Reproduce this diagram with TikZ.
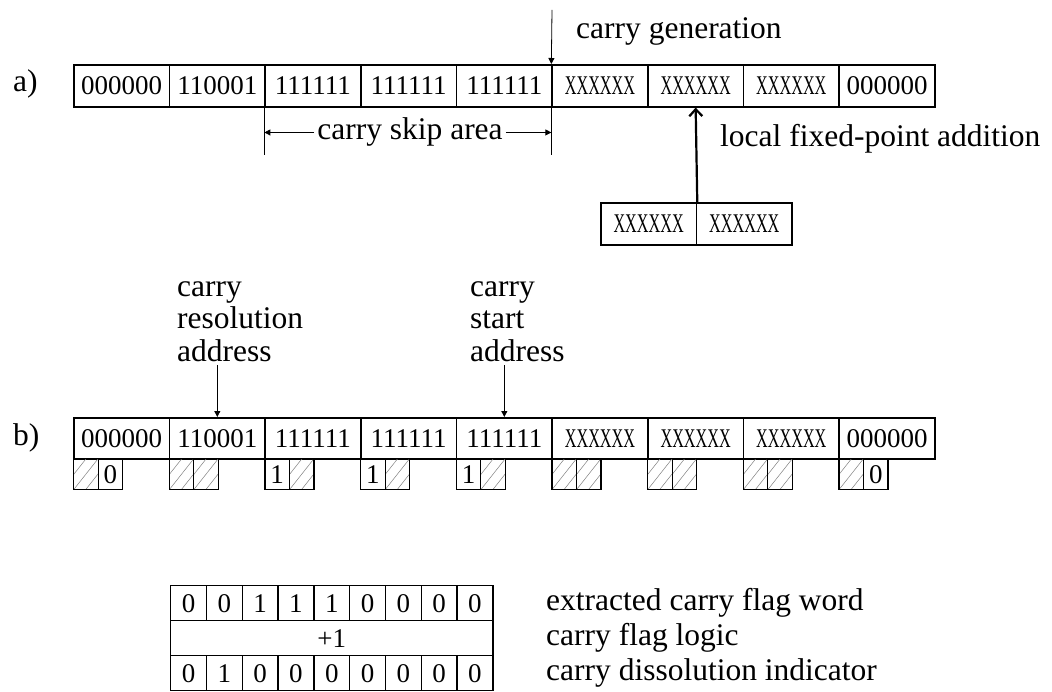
\documentclass[tikz,border=0pt]{standalone}
\usepackage{fontspec}
\usepackage{graphicx}
\setmainfont{Liberation Serif}
\usetikzlibrary{arrows.meta,calc}

\newcommand{\labfont}{\fontsize{31.5}{32.5}\selectfont}
\newcommand{\cellfont}{\fontsize{27}{30}\selectfont}
% narrow placeholder word for undetermined digits
\newcommand{\xword}{\scalebox{0.6}[1]{XXXXXX}}
% flag cell text: "h" means a hatched (don't care) flag
\newcommand{\flagtext}[1]{\if h#1\else#1\fi}

\begin{document}
\begin{tikzpicture}[x=1pt,y=-1pt,
  digits/.style={inner sep=0pt, text height=18pt, text depth=0pt, font=\cellfont},
  cell/.style={draw, line width=1.6pt, minimum width=95.67pt, minimum height=42pt,
               digits, anchor=north west},
  flag/.style={draw, line width=1.3pt, minimum width=24.5pt, minimum height=31pt,
               digits, anchor=north west},
  tcell/.style={draw, line width=1.3pt, minimum width=35.8pt, minimum height=35pt,
               digits, anchor=north west},
  hatched/.style={path picture={
      \foreach \k in {-12,0,12}
        \draw[gray, line width=0.5pt]
          ($(path picture bounding box.south west)+(\k,0)$) --
          ($(path picture bounding box.north east)+(\k,0)$);}},
  flag-h/.style={hatched}, flag-0/.style={}, flag-1/.style={},
  lab/.style={font=\labfont, inner sep=0pt},
  thinarrow/.style={line width=0.8pt, -{Triangle[length=6pt,width=6pt]}},
  thickarrow/.style={line width=2.2pt, -{Straight Barb[length=7pt,width=13pt]}},
]
\useasboundingbox (0,0) rectangle (1052,692);

% ---------------- a) ----------------
\node[lab, anchor=base west] (la) at (13,92) {a)};
\foreach \t [count=\i from 0] in {000000,110001,111111,111111,111111,\xword,\xword,\xword,000000}
  \node[cell] (a\i) at ({73+95.67*\i},64) {\t};

\coordinate (cgtop) at (552,10);
\draw[thinarrow] (cgtop) -- (a5.north west);
\node[lab, anchor=base west] (cg) at (576,39) {carry generation};

% carry skip area markers
\draw[line width=0.8pt] (a2.south west) -- ++(0,47) coordinate (sk1);
\draw[line width=0.8pt] (a5.south west) -- ++(0,47) coordinate (sk2);
\node[lab, anchor=base, inner sep=3pt] (skip) at (410,140) {carry skip area};
\draw[thinarrow] (skip.west) -- (skip.west -| sk1);
\draw[thinarrow] (skip.east) -- (skip.east -| sk2);

\node[lab, anchor=base west] (lfa) at (720,147) {local fixed-point addition};

\node[cell] (l0) at (600,202) {\xword};
\node[cell] (l1) at (695.67,202) {\xword};
\draw[thickarrow] (l0.north east) -- (a6.south);

% ---------------- b) ----------------
\node[lab, anchor=base west] (lb) at (13,445) {b)};
\foreach \t [count=\i from 0] in {000000,110001,111111,111111,111111,\xword,\xword,\xword,000000}
  \node[cell, minimum height=41pt] (b\i) at ({73+95.67*\i},417) {\t};

\foreach \l/\r [count=\i from 0] in {h/0,h/h,1/h,1/h,1/h,h/h,h/h,h/h,h/0} {
  \node[flag, flag-\l] (fl\i) at ({73+95.67*\i},458) {\flagtext{\l}};
  \node[flag, flag-\r] (fr\i) at ({97.5+95.67*\i},458) {\flagtext{\r}};
}

\node[lab, align=left, anchor=south west, inner sep=3pt] (res) at (174,365)
  {carry\\resolution\\address};
\node[lab, align=left, anchor=south west, inner sep=3pt] (sta) at (467,365)
  {carry\\start\\address};
\draw[thinarrow] (b1.north |- res.south) -- (b1.north);
\draw[thinarrow] (b4.north |- sta.south) -- (b4.north);

% ---------------- carry flag table ----------------
\foreach \t [count=\i from 0] in {0,0,1,1,1,0,0,0,0}
  \node[tcell] (t\i) at ({170+35.8*\i},585) {\t};
\node[tcell, minimum width=322.2pt] (plus) at (170,620) {+1};
\foreach \t [count=\i from 0] in {0,1,0,0,0,0,0,0,0}
  \node[tcell] (u\i) at ({170+35.8*\i},655) {\t};

\node[lab, anchor=base west] (ex) at (546,610) {extracted carry flag word};
\node[lab, anchor=base west] (lg) at (546,645) {carry flag logic};
\node[lab, anchor=base west] (di) at (546,680) {carry dissolution indicator};
\end{tikzpicture}
\end{document}
